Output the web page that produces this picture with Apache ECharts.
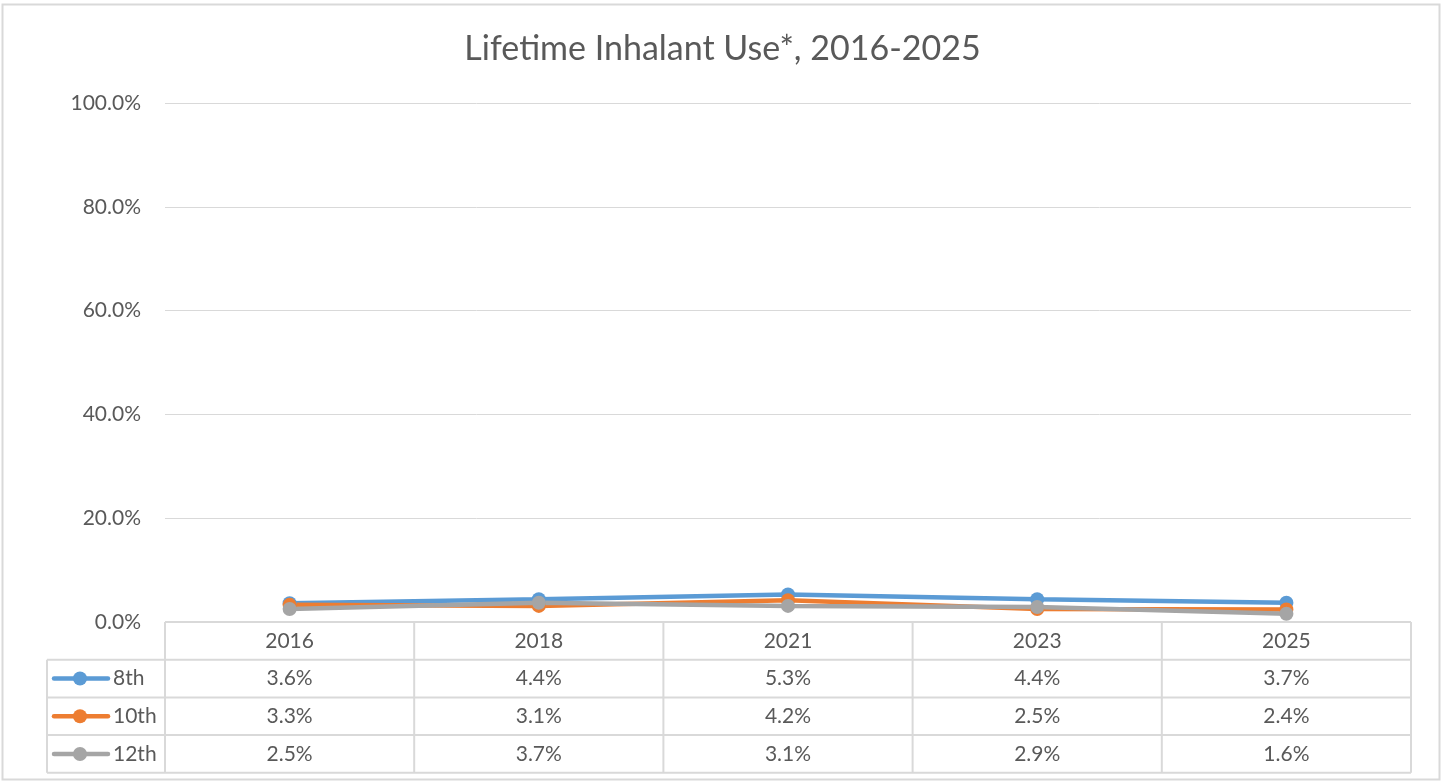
<!DOCTYPE html>
<html>
<head>
<meta charset="utf-8">
<script src="https://cdn.jsdelivr.net/npm/echarts@6/dist/echarts.min.js"></script>
<style>
html, body { margin: 0; padding: 0; background: #fff; }
#chart { width: 1445px; height: 783px; }
</style>
</head>
<body>
<div id="chart"></div>
<script>
// data
const years = ['2016', '2018', '2021', '2023', '2025'];
const grade8 = [3.6, 4.4, 5.3, 4.4, 3.7];
const grade10 = [3.3, 3.1, 4.2, 2.5, 2.4];
const grade12 = [2.5, 3.7, 3.1, 2.9, 1.6];
const seriesNames = ['8th', '10th', '12th'];
const yMin = 0, yMax = 100, yStep = 20;

const colors = ['#5B9BD5', '#ED7D31', '#A5A5A5'];
const textColor = '#595959';
const lineColor = '#D9D9D9';
const font = 'Lato, "Open Sans", sans-serif';
const allSeries = [grade8, grade10, grade12];

const chart = echarts.init(document.getElementById('chart'));

const option = {
    animation: false,
    color: colors,
    title: {
        text: 'Lifetime Inhalant Use*, 2016-2025',
        left: 'center',
        top: 27,
        textStyle: { color: textColor, fontSize: 34, fontWeight: 'normal', fontFamily: font }
    },
    grid: { left: 165, right: 34, top: 103, bottom: 161 },
    xAxis: {
        type: 'category',
        data: years,
        boundaryGap: true,
        axisLine: { show: false },
        axisTick: { show: false },
        axisLabel: { show: false }
    },
    yAxis: {
        type: 'value',
        min: yMin,
        max: yMax,
        interval: yStep,
        axisLine: { show: false },
        axisTick: { show: false },
        axisLabel: {
            margin: 24,
            color: textColor,
            fontSize: 21,
            fontFamily: font,
            formatter: v => v.toFixed(1) + '%'
        },
        splitLine: { lineStyle: { color: lineColor, width: 1 } }
    },
    series: allSeries.map((d, i) => ({
        name: seriesNames[i],
        type: 'line',
        data: d,
        symbol: 'circle',
        symbolSize: 14,
        lineStyle: { width: 4.5, color: colors[i] },
        itemStyle: { color: colors[i] }
    }))
};
chart.setOption(option);

// data table under the plot, placed from the axis scale
function px(finder, v, k) {
    const p = chart.convertToPixel(finder, v);
    return typeof p === 'number' ? p : p[k];
}
const centers = years.map((y, i) => px({ xAxisIndex: 0 }, i, 0));
const band = centers[1] - centers[0];
const tblLeft = centers[0] - band / 2;
const tblRight = centers[centers.length - 1] + band / 2;
const tblTop = px({ yAxisIndex: 0 }, yMin, 1);
const rowH = 37.7;
const keyLeft = 47;
const elements = [];

function hline(x1, x2, y) {
    elements.push({ type: 'line', shape: { x1: x1, y1: y, x2: x2, y2: y }, style: { stroke: lineColor, lineWidth: 2 } });
}
function vline(x, y1, y2) {
    elements.push({ type: 'line', shape: { x1: x, y1: y1, x2: x, y2: y2 }, style: { stroke: lineColor, lineWidth: 2 } });
}
function label(txt, x, y, align) {
    elements.push({
        type: 'text', x: x, y: y,
        style: { text: txt, fill: textColor, font: '21px ' + font, align: align || 'center', verticalAlign: 'middle' }
    });
}

const tblBottom = tblTop + rowH * 4;
hline(tblLeft, tblRight, tblTop);
hline(keyLeft, tblRight, tblTop + rowH);
hline(keyLeft, tblRight, tblTop + rowH * 2);
hline(keyLeft, tblRight, tblTop + rowH * 3);
hline(keyLeft, tblRight, tblBottom);
vline(keyLeft, tblTop + rowH, tblBottom);
for (let i = 0; i <= years.length; i++) vline(tblLeft + band * i, tblTop, tblBottom);

years.forEach((y, i) => label(y, centers[i], tblTop + rowH / 2));
allSeries.forEach((d, r) => {
    const cy = tblTop + rowH * (r + 1.5);
    d.forEach((v, i) => label(v.toFixed(1) + '%', centers[i], cy));
    elements.push({ type: 'line', shape: { x1: 54, y1: cy, x2: 108, y2: cy }, style: { stroke: colors[r], lineWidth: 4.5, lineCap: 'round' } });
    elements.push({ type: 'circle', shape: { cx: 80, cy: cy, r: 7 }, style: { fill: colors[r] } });
    label(seriesNames[r], 113, cy, 'left');
});

// outer chart border
elements.push({ type: 'rect', shape: { x: 2.5, y: 4.5, width: 1437, height: 775 }, style: { fill: null, stroke: lineColor, lineWidth: 2 } });

chart.setOption({ graphic: elements });
</script>
</body>
</html>
